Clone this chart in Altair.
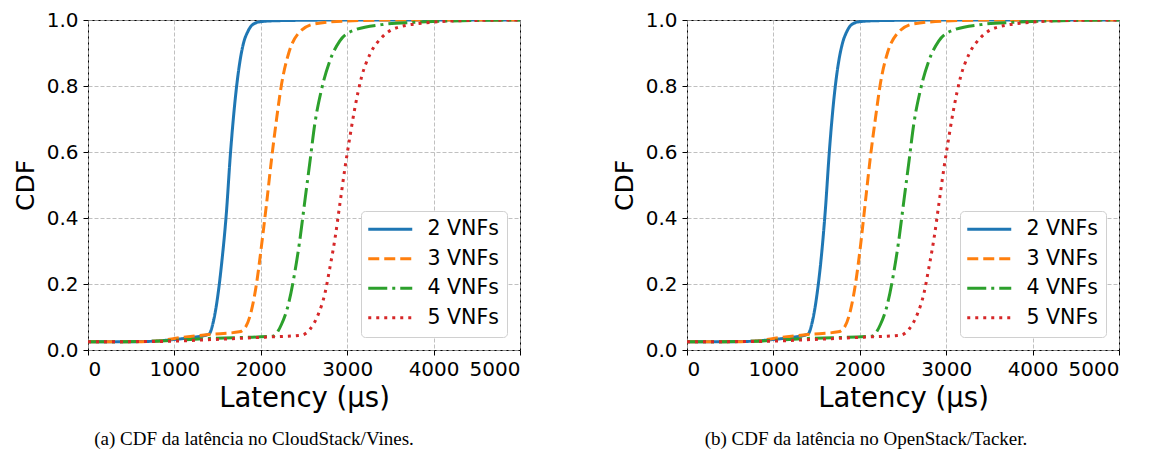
import altair as alt
import pandas as pd

SERIES = ["2 VNFs", "3 VNFs", "4 VNFs", "5 VNFs"]
COLORS = ["#1f77b4", "#ff7f0e", "#2ca02c", "#d62728"]
DASHES = [[1, 0], [11, 5], [19, 5, 3, 5], [3, 5]]

X_TICKS = [0, 1000, 2000, 3000, 4000, 5000]
Y_TICKS = [0.0, 0.2, 0.4, 0.6, 0.8, 1.0]

# ---- Panel (a): CloudStack/Vines ----
a2_x = [0, 400, 700, 1000, 1200, 1400, 1450, 1500, 1550, 1600, 1650, 1700, 1750, 1800, 1850, 1900, 2000, 2200, 3000, 5000]
a2_y = [0.025, 0.025, 0.026, 0.032, 0.038, 0.048, 0.085, 0.16, 0.27, 0.41, 0.60, 0.75, 0.86, 0.93, 0.965, 0.985, 0.995, 0.998, 1.0, 1.0]
a3_x = [0, 500, 800, 1000, 1400, 1750, 1820, 1890, 1950, 2010, 2065, 2125, 2180, 2240, 2320, 2430, 2620, 3000, 3500, 5000]
a3_y = [0.025, 0.025, 0.027, 0.035, 0.047, 0.055, 0.068, 0.118, 0.20, 0.32, 0.44, 0.58, 0.695, 0.805, 0.897, 0.958, 0.988, 0.997, 1.0, 1.0]
a4_x = [0, 700, 1400, 2140, 2240, 2320, 2390, 2450, 2510, 2570, 2625, 2700, 2800, 2915, 3070, 3400, 3780, 4170, 5000]
a4_y = [0.025, 0.026, 0.035, 0.042, 0.078, 0.139, 0.23, 0.33, 0.452, 0.573, 0.685, 0.786, 0.877, 0.937, 0.968, 0.986, 0.993, 0.997, 1.0]
a5_x = [0, 850, 1470, 2050, 2470, 2570, 2665, 2740, 2800, 2860, 2915, 2975, 3030, 3090, 3165, 3265, 3400, 3590, 3980, 4360, 5000]
a5_y = [0.025, 0.026, 0.032, 0.039, 0.045, 0.063, 0.108, 0.169, 0.25, 0.34, 0.442, 0.553, 0.644, 0.735, 0.826, 0.897, 0.947, 0.978, 0.993, 0.998, 1.0]

# ---- Panel (b): OpenStack/Tacker ----
b2_x = [0, 400, 700, 1000, 1200, 1400, 1450, 1500, 1550, 1600, 1650, 1700, 1750, 1800, 1850, 1900, 2000, 2200, 3000, 5000]
b2_y = [0.025, 0.025, 0.026, 0.032, 0.038, 0.048, 0.085, 0.16, 0.27, 0.42, 0.61, 0.76, 0.865, 0.93, 0.965, 0.985, 0.995, 0.998, 1.0, 1.0]
b3_x = [0, 500, 800, 1000, 1400, 1750, 1820, 1890, 1950, 2010, 2065, 2125, 2180, 2240, 2320, 2430, 2620, 3000, 3500, 5000]
b3_y = [0.025, 0.025, 0.027, 0.035, 0.047, 0.055, 0.068, 0.118, 0.20, 0.32, 0.45, 0.59, 0.70, 0.81, 0.90, 0.958, 0.988, 0.997, 1.0, 1.0]
b4_x = [0, 700, 1400, 2140, 2240, 2320, 2390, 2450, 2510, 2570, 2625, 2700, 2800, 2915, 3070, 3400, 3780, 4170, 5000]
b4_y = [0.025, 0.026, 0.035, 0.042, 0.078, 0.139, 0.23, 0.33, 0.452, 0.573, 0.685, 0.786, 0.877, 0.937, 0.968, 0.986, 0.993, 0.997, 1.0]
b5_x = [0, 850, 1470, 2050, 2470, 2570, 2665, 2740, 2800, 2860, 2915, 2975, 3030, 3090, 3165, 3265, 3400, 3590, 3980, 4360, 5000]
b5_y = [0.025, 0.026, 0.032, 0.039, 0.045, 0.063, 0.108, 0.169, 0.25, 0.34, 0.442, 0.553, 0.644, 0.735, 0.826, 0.897, 0.947, 0.978, 0.993, 0.998, 1.0]

CAPTION_A = "(a) CDF da latência no CloudStack/Vines."
CAPTION_B = "(b) CDF da latência no OpenStack/Tacker."


def frame(pairs):
    rows = []
    for name, xs, ys in pairs:
        for x, y in zip(xs, ys):
            rows.append({"series": name, "lat": x, "cdf": y})
    return pd.DataFrame(rows)


df_a = frame([(SERIES[0], a2_x, a2_y), (SERIES[1], a3_x, a3_y),
              (SERIES[2], a4_x, a4_y), (SERIES[3], a5_x, a5_y)])
df_b = frame([(SERIES[0], b2_x, b2_y), (SERIES[1], b3_x, b3_y),
              (SERIES[2], b4_x, b4_y), (SERIES[3], b5_x, b5_y)])


def panel(df, caption, dx):
    return alt.Chart(df).mark_line(
        strokeWidth=3, interpolate="monotone", strokeCap="butt", clip=True
    ).encode(
        x=alt.X("lat:Q", scale=alt.Scale(domain=[0, 5000], nice=False),
                axis=alt.Axis(values=X_TICKS, format="d", title="Latency (µs)")),
        y=alt.Y("cdf:Q", scale=alt.Scale(domain=[0, 1], nice=False),
                axis=alt.Axis(values=Y_TICKS, format=".1f", title="CDF")),
        color=alt.Color("series:N", scale=alt.Scale(domain=SERIES, range=COLORS), title=None),
        strokeDash=alt.StrokeDash("series:N", scale=alt.Scale(domain=SERIES, range=DASHES), title=None),
    ).properties(
        width=432, height=330,
        title=alt.TitleParams(caption, orient="bottom", anchor="middle", frame="group",
                              dx=dx, offset=18, font="Liberation Serif", fontSize=19,
                              fontWeight="normal", color="black"),
    )


chart = alt.hconcat(
    panel(df_a, CAPTION_A, -50),
    panel(df_b, CAPTION_B, -37),
    spacing=167,
    bounds="flush",
).resolve_legend(
    color="independent", strokeDash="independent"
).properties(
    padding={"left": 4, "top": 1, "right": 0, "bottom": 4}
).configure_view(
    stroke="black", strokeWidth=1
).configure_axis(
    labelFont="DejaVu Sans", labelFontSize=20, labelColor="black",
    titleFont="DejaVu Sans", titleFontWeight="normal", titleColor="black",
    tickColor="black", tickSize=5, tickWidth=1, domain=False,
    grid=True, gridColor="#b0b0b0", gridDash=[4, 2], gridWidth=0.8,
    labelPadding=5,
).configure_axisY(
    titlePadding=8, titleFontSize=25
).configure_axisX(
    titlePadding=5, titleFontSize=27.5, labelPadding=4
).configure_legend(
    orient="none", legendX=273, legendY=191, padding=8,
    fillColor="white", strokeColor="#d0d0d0", cornerRadius=4,
    symbolType="M-4,0H4", symbolSize=121, symbolStrokeWidth=3,
    symbolOffset=11,
    labelFont="DejaVu Sans", labelFontSize=20.5, labelColor="black",
    labelOffset=27, rowPadding=8.5,
)

chart.save("out.html", embed_options={"renderer": "svg", "actions": False})
